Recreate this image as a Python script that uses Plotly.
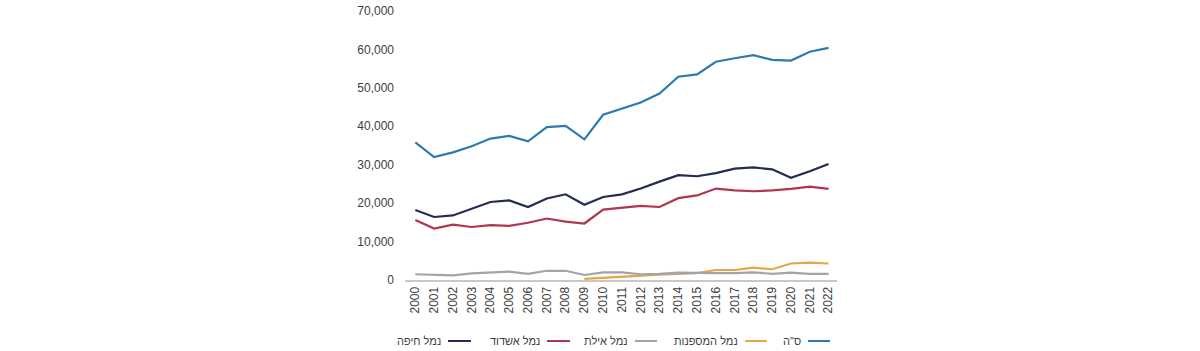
import plotly.graph_objects as go

years = list(range(2000, 2023))

total = [35800, 32000, 33200, 34800, 36800, 37500, 36100, 39800, 40100, 36600,
         43000, 44600, 46200, 48500, 52900, 53500, 56800, 57700, 58500, 57300,
         57100, 59400, 60400]
haifa = [18200, 16400, 16800, 18500, 20300, 20700, 19000, 21200, 22300, 19600,
         21600, 22300, 23800, 25600, 27300, 27000, 27800, 29000, 29300, 28800,
         26600, 28300, 30200]
ashdod = [15600, 13400, 14400, 13800, 14300, 14100, 14900, 16000, 15200, 14700,
          18300, 18800, 19300, 19000, 21300, 22000, 23800, 23300, 23100, 23300,
          23700, 24300, 23700]
eilat = [1500, 1400, 1200, 1700, 1900, 2200, 1600, 2400, 2400, 1300,
         2000, 2000, 1500, 1600, 1900, 1800, 1800, 1800, 2000, 1600,
         1900, 1600, 1600]
shipyard_years = list(range(2009, 2023))
shipyard = [300, 600, 900, 1200, 1400, 1600, 1800, 2600, 2600, 3200, 2800,
            4300, 4500, 4300]

names = ['ס"ה', "נמל המספנות", "נמל אילת", "נמל אשדוד", "נמל חיפה"]
colors = ["#2b7bb0", "#e6a54a", "#a3a3ab", "#b23550", "#232c52"]
series_x = [years, shipyard_years, years, years, years]
series_y = [total, shipyard, eilat, ashdod, haifa]

fig = go.Figure()
for nm, c, xs, ys in zip(names, colors, series_x, series_y):
    fig.add_trace(go.Scatter(x=xs, y=ys, mode="lines", name=nm,
                             line=dict(color=c, width=2.2), showlegend=False))

# manual RTL legend (text then line to its right)
L, W = 405, 432
legend_items = [  # (text right edge px, line start px, line end px)
    (803, 808, 830),
    (740, 745, 767),
    (630, 635, 657),
    (542, 547, 570),
    (443, 448, 471),
]
ly = -(341 - 280) / 269
for (tr, ls, le), nm, c in zip(legend_items, names, colors):
    fig.add_annotation(x=(tr - L) / W, y=ly, xref="paper", yref="paper",
                       text=nm, showarrow=False, xanchor="right", yanchor="middle",
                       font=dict(size=11, color="#404040"))
    fig.add_shape(type="line", xref="paper", yref="paper",
                  x0=(ls - L) / W, x1=(le - L) / W, y0=ly, y1=ly,
                  line=dict(color=c, width=2))

fig.update_layout(
    width=1200, height=351,
    margin=dict(l=405, r=363, t=11, b=71, autoexpand=False),
    plot_bgcolor="white", paper_bgcolor="white",
    font=dict(family="Liberation Sans, Arial, sans-serif", size=12, color="#404040"),
    xaxis=dict(range=[1999.45, 2022.45], tickmode="array", tickvals=years,
               ticktext=[str(y) for y in years], tickangle=-90, automargin=False,
               showgrid=False, zeroline=False, showline=True,
               linecolor="#c8c8c8", linewidth=2, ticks="", tickfont=dict(size=12)),
    yaxis=dict(range=[0, 70000], tickvals=list(range(0, 70001, 10000)),
               tickformat=",", showgrid=False, zeroline=False, showline=False,
               automargin=False, ticks="", ticklabelstandoff=10,
               tickfont=dict(size=12)),
)

fig.write_html("out.html")
